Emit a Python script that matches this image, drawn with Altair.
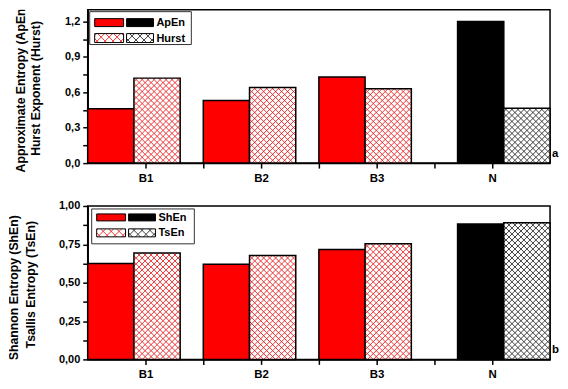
import json
import altair as alt
import pandas as pd

# ---------------- data ----------------
categories = ["B1", "B2", "B3", "N"]
apen = [0.46, 0.53, 0.73, 1.20]
hurst = [0.72, 0.64, 0.63, 0.465]
shen = [0.625, 0.62, 0.716, 0.882]
tsen = [0.693, 0.677, 0.754, 0.890]
top_ticks = [0.0, 0.3, 0.6, 0.9, 1.2]
bottom_ticks = [0.0, 0.25, 0.5, 0.75, 1.0]
top_legend = ["ApEn", "Hurst"]
bottom_legend = ["ShEn", "TsEn"]
top_title = ["Approximate Entropy (ApEn)", "Hurst Exponent (Hurst)"]
bottom_title = ["Shannon Entropy (ShEn)", "Tsallis Entropy (TsEn)"]
panel_tags = ["a", "b"]

# ---------------- style ----------------
W, H = 464, 154
TITLE_W = 41
FONT = "Liberation Sans"
BAR = 0.4
XMIN, XMAX = 0.5, 4.5
RED = "#ff0000"
RED_HATCH = "#e82020"
BLACK_HATCH = "#2a2a2a"


def hatch_segments(x0, x1, y0, y1, pxx, pxy, period, phase=2.0):
    """45-degree cross-hatch inside a rectangle given in data units."""
    w = (x1 - x0) * pxx
    h = (y1 - y0) * pxy
    segs = []
    k = -w + phase
    while k < h:
        lo, hi = max(0.0, -k), min(w, h - k)
        if hi > lo:
            segs.append((lo, lo + k, hi, hi + k))
        k += period
    k = phase
    while k < w + h:
        lo, hi = max(0.0, k - h), min(w, k)
        if hi > lo:
            segs.append((lo, k - lo, hi, k - hi))
        k += period
    return [dict(hx=x0 + a / pxx, hy=y0 + b / pxy, hx2=x0 + c / pxx, hy2=y0 + d / pxy)
            for a, b, c, d in segs]


def build_table(s1, s2):
    rows = []
    for i, (c, v1, v2) in enumerate(zip(categories, s1, s2)):
        start = (i + 1) - 0.5 + (0.2 if c == "N" else 0.0)
        normal = c != "N"
        rows.append(dict(cat=c, series="solid", idx=i, value=v1, x0=start, x1=start + BAR,
                         color=RED if normal else "#000000"))
        rows.append(dict(cat=c, series="hatched", idx=i, value=v2, x0=start + BAR,
                         x1=start + 2 * BAR, color=RED_HATCH if normal else BLACK_HATCH))
    return pd.DataFrame(rows)


def panel(s1, s2, ticks, ymax, step, fmt, legend_labels, tag, box, rows_y):
    df = build_table(s1, s2)
    pxx = W / (XMAX - XMIN)
    pxy = H / ymax
    major = ticks[1] - ticks[0]
    yvals = [round(i * step, 6) for i in range(int(round(ymax / step)) + 1) if i * step <= ymax + 1e-9]
    y_axis = alt.Axis(
        values=yvals,
        labelExpr=(f"abs(datum.value/{major} - round(datum.value/{major})) < 0.001 ? "
                   f"replace(format(datum.value, '{fmt}'), '.', ',') : ''"),
        tickSize=5, labelPadding=3, minExtent=36, maxExtent=36, title=None,
    )
    x_axis = alt.Axis(
        values=[1, 1.5, 2, 2.5, 3, 3.5, 4],
        labelExpr="datum.value % 1 == 0 ? " + json.dumps(categories) + "[datum.value - 1] : ''",
        tickSize=5, labelPadding=4, labelFontSize=11.5, title=None,
    )
    xs = alt.Scale(domain=[XMIN, XMAX], nice=False, zero=False)
    ys = alt.Scale(domain=[0, ymax], nice=False)
    enc = dict(x=alt.X("x0:Q", scale=xs, axis=x_axis), x2="x1:Q",
               y=alt.Y("value:Q", scale=ys, axis=y_axis), y2=alt.datum(0))
    henc = dict(x=alt.X("hx:Q", scale=xs, axis=x_axis), x2="hx2:Q",
                y=alt.Y("hy:Q", scale=ys, axis=y_axis), y2="hy2:Q")

    base = alt.Chart(df)
    layers = [
        base.transform_filter("datum.series == 'solid'")
        .mark_rect(stroke="black", strokeWidth=1.5)
        .encode(fill=alt.Fill("color:N", scale=None), **enc),
        base.transform_filter("datum.series == 'hatched'")
        .mark_rect(fill="white", strokeWidth=0)
        .encode(**enc),
    ]
    hatch_rows = []
    for _, row in df[df.series == "hatched"].iterrows():
        for s in hatch_segments(row.x0, row.x1, 0.0, row.value, pxx, pxy, 6.0):
            s["color"] = row.color
            hatch_rows.append(s)
    layers.append(
        alt.Chart(pd.DataFrame(hatch_rows))
        .mark_rule(strokeWidth=0.9)
        .encode(color=alt.Color("color:N", scale=None), **henc)
    )
    layers.append(
        base.transform_filter("datum.series == 'hatched'")
        .mark_rect(fill="transparent", stroke="black", strokeWidth=1.5)
        .encode(**enc)
    )

    # legend (pixel layout inside the plot area)
    one = alt.Chart(pd.DataFrame({"k": [0]}))
    bx0, by0, bx1, by1 = box
    layers.append(one.mark_rect(fill="white", stroke="#333333", strokeWidth=1).encode(
        x=alt.value(bx0), x2=alt.value(bx1), y=alt.value(by0), y2=alt.value(by1)))
    (ry0a, ry0b), (ry1a, ry1b) = rows_y
    sx = [(bx0 + 5, bx0 + 34), (bx0 + 37, bx0 + 64)]
    layers.append(one.mark_rect(fill=RED, stroke="black", strokeWidth=1).encode(
        x=alt.value(sx[0][0]), x2=alt.value(sx[0][1]), y=alt.value(ry0a), y2=alt.value(ry0b)))
    layers.append(one.mark_rect(fill="black", stroke="black", strokeWidth=1).encode(
        x=alt.value(sx[1][0]), x2=alt.value(sx[1][1]), y=alt.value(ry0a), y2=alt.value(ry0b)))
    leg_rows = []
    for (x0, x1), col in zip(sx, (RED_HATCH, BLACK_HATCH)):
        dx0, dx1 = XMIN + x0 / pxx, XMIN + x1 / pxx
        dy0, dy1 = ymax - ry1b / pxy, ymax - ry1a / pxy
        for s in hatch_segments(dx0, dx1, dy0, dy1, pxx, pxy, 8.0, phase=4.0):
            s["color"] = col
            leg_rows.append(s)
    layers.append(
        alt.Chart(pd.DataFrame(leg_rows))
        .mark_rule(strokeWidth=0.9)
        .encode(color=alt.Color("color:N", scale=None), **henc)
    )
    for x0, x1 in sx:
        layers.append(one.mark_rect(fill="transparent", stroke="black", strokeWidth=1).encode(
            x=alt.value(x0), x2=alt.value(x1), y=alt.value(ry1a), y2=alt.value(ry1b)))
    for lab, (ya, yb) in zip(legend_labels, rows_y):
        layers.append(one.mark_text(align="left", baseline="middle", font=FONT, fontWeight="bold",
                                    fontSize=11, color="black").encode(
            x=alt.value(bx0 + 67), y=alt.value((ya + yb) / 2 + 0.5), text=alt.value(lab)))
    layers.append(one.mark_text(align="left", baseline="middle", font=FONT, fontWeight="bold",
                                fontSize=11.5, color="black").encode(
        x=alt.value(W + 2), y=alt.value(H - 9), text=alt.value(tag)))
    return alt.layer(*layers).properties(width=W, height=H)


def title_panel(lines, xs, ys, height):
    layers = []
    for t, x, y in zip(lines, xs, ys):
        layers.append(
            alt.Chart(pd.DataFrame({"t": [t]}))
            .mark_text(angle=270, clip=True, font=FONT, fontWeight="bold", fontSize=12.3,
                       align="center", baseline="middle", color="black")
            .encode(x=alt.value(x), y=alt.value(y), text="t:N")
        )
    return alt.layer(*layers).properties(width=TITLE_W, height=height,
                                         view=alt.ViewBackground(stroke="transparent"))


pa = panel(apen, hurst, top_ticks, 1.3, 0.15, ".1f", top_legend, panel_tags[0],
           (2, 2, 104, 35), ((9, 17), (24, 33)))
pb = panel(shen, tsen, bottom_ticks, 1.0, 0.125, ".2f", bottom_legend, panel_tags[1],
           (4, 3, 107, 38), ((8, 15), (23, 31)))

row_a = alt.hconcat(title_panel(top_title, [12, 27], [79, 79], 165), pa, spacing=0)
row_b = alt.hconcat(title_panel(bottom_title, [5, 22], [82, 79], H), pb, spacing=0)

chart = (
    alt.vconcat(row_a, row_b, spacing=14)
    .properties(padding={"top": 0, "left": 0, "right": 0, "bottom": -2}, background="white")
    .configure_view(stroke="black", strokeWidth=1.5)
    .configure_axis(
        domainColor="black", domainWidth=1.5, tickColor="black", tickWidth=1.5,
        labelFont=FONT, labelFontWeight="bold", labelFontSize=11, labelColor="black",
        grid=False,
    )
)

chart.save("out.html", embed_options={"renderer": "svg", "actions": False})
